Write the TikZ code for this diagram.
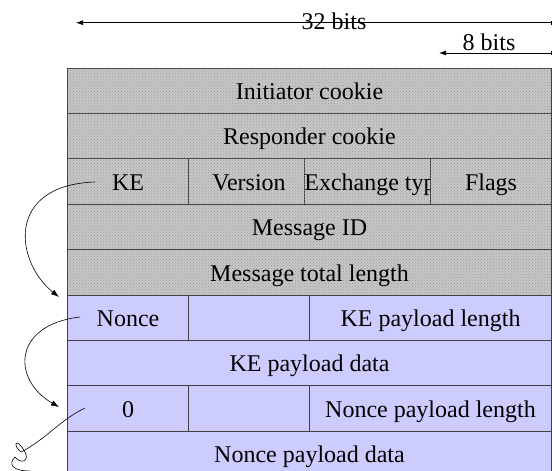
\documentclass[tikz,border=0pt]{standalone}
\usepackage{fontspec}
\setmainfont{Liberation Serif}
\usetikzlibrary{arrows.meta,patterns}
\definecolor{payload}{RGB}{204,204,255}

\begin{document}
\begin{tikzpicture}[x=1pt,y=-1pt,>={Latex[length=8pt,width=5.5pt]},
  cell/.style={rectangle,draw=black!75,line width=0.8pt,inner sep=0pt,minimum height=45.4pt,text height=17.4pt,text depth=0pt,font=\fontsize{24}{28}\selectfont},
  head node/.style={cell,fill=black!22,postaction={pattern=crosshatch dots,pattern color=black!40}},
  load node/.style={cell,fill=payload},
  dim label/.style={anchor=base,inner sep=0pt,font=\fontsize{24}{28}\selectfont}]
  \useasboundingbox (0,0) rectangle (552,471);

  \node[head node,minimum width=484pt] (ic) at (309.5,90.7) {Initiator cookie};
  \node[head node,minimum width=484pt] (rc) at (309.5,136.1) {Responder cookie};
  \node[head node,minimum width=121pt] (ke) at (128,181.5) {KE};
  \node[head node,minimum width=121pt] (ver) at (249,181.5) {Version};
  \node[head node,minimum width=121pt] (xt) at (370,181.5) {Exchange typ};
  \node[head node,minimum width=121pt] (fl) at (491,181.5) {Flags};
  \node[head node,minimum width=484pt] (mid) at (309.5,226.9) {Message ID};
  \node[head node,minimum width=484pt] (mlen) at (309.5,272.3) {Message total length};
  \node[load node,minimum width=121pt] (nonce) at (128,317.7) {Nonce};
  \node[load node,minimum width=121pt] (r1) at (249,317.7) {};
  \node[load node,minimum width=242pt] (kelen) at (430.5,317.7) {KE payload length};
  \node[load node,minimum width=484pt] (kedata) at (309.5,363.1) {KE payload data};
  \node[load node,minimum width=121pt] (zero) at (128,408.5) {0};
  \node[load node,minimum width=121pt] (r2) at (249,408.5) {};
  \node[load node,minimum width=242pt] (nlen) at (430.5,408.5) {Nonce payload length};
  \node[load node,minimum width=484pt] (ndata) at (309.5,453.9) {Nonce payload data};

  \coordinate (w32) at (76,22.7);
  \coordinate (e32) at (551.5,22.7);
  \coordinate (w8) at (439,53);
  \coordinate (e8) at (551.5,53);
  \draw[line width=0.7pt,{Latex[length=7pt,width=5pt]}-{Bar[width=4pt]}] (w32) -- (e32);
  \draw[line width=0.7pt,{Latex[length=7pt,width=5pt]}-{Bar[width=4pt]}] (w8) -- (e8);
  \node[dim label] (t32) at (334,30) {32 bits};
  \node[dim label] (t8) at (489,50.7) {8 bits};

  \coordinate (ke out) at (95,182);
  \coordinate (nonce in) at (59,297);
  \coordinate (nonce out) at (80,317);
  \coordinate (zero in) at (59,407);
  \coordinate (zero out) at (85,408);
  \coordinate (nib) at (21,452);
  \draw[->,line width=0.6pt] (ke out) .. controls (5,185) and (15,262) .. (nonce in);
  \draw[->,line width=0.6pt] (nonce out) .. controls (12,325) and (12,380) .. (zero in);
  \draw[line width=0.6pt] (zero out) .. controls (60,420) and (45,440) .. (nib)
    .. controls (12,445) and (16,436) .. (25,452)
    .. controls (30,462) and (20,464) .. (15,457)
    .. controls (8,464) and (12,471) .. (30,471);
\end{tikzpicture}
\end{document}
